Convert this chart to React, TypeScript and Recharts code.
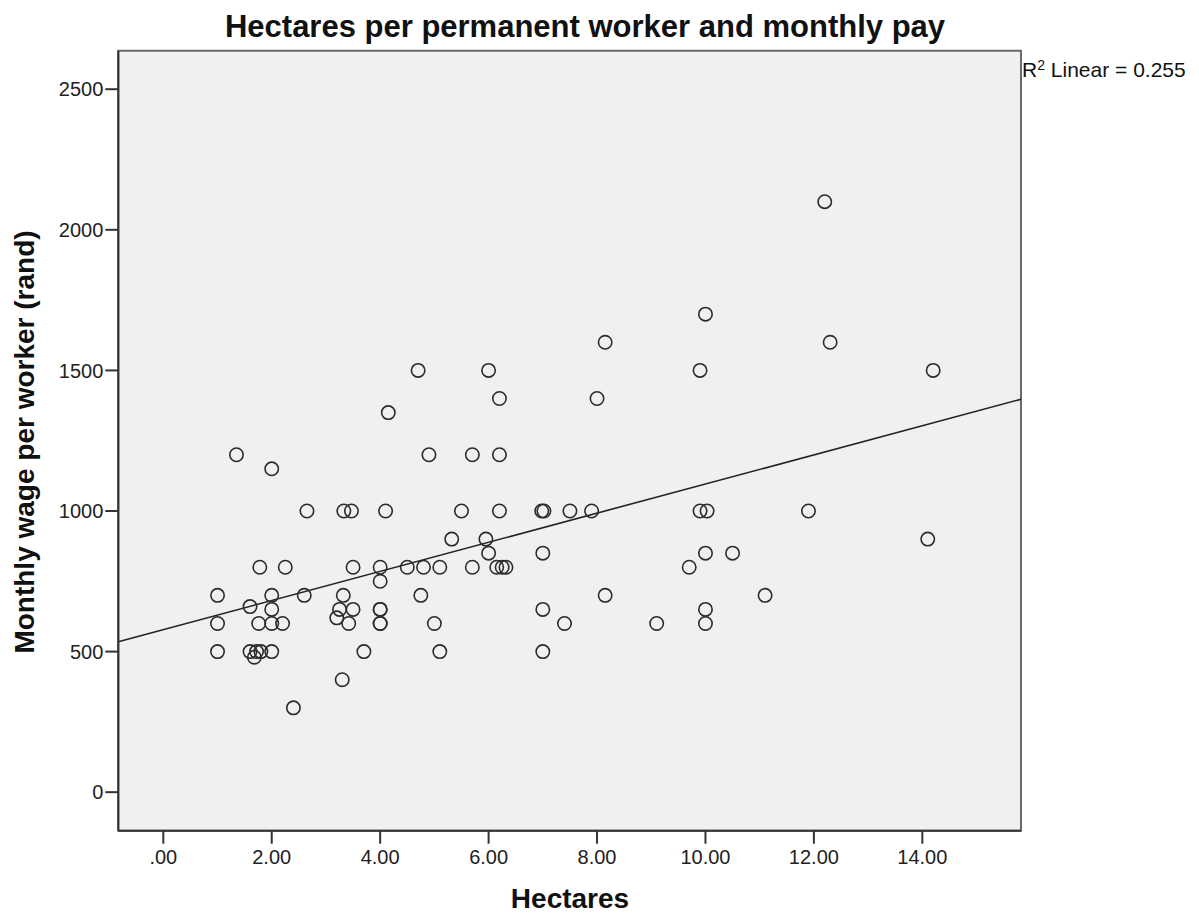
import { ScatterChart, Scatter, XAxis, YAxis, ReferenceArea, ReferenceLine } from "recharts";

document.body.style.margin = "0";

const FONT = '"Liberation Sans", Arial, sans-serif';

// farms: hectares per permanent worker, grouped by wage level
const hectares = [
  12.2, // 2100
  10.0, // 1700
  8.15, 12.3, // 1600
  4.7, 6.0, 9.9, 14.2, // 1500
  6.2, 8.0, // 1400
  4.15, // 1350
  1.35, 4.9, 5.7, 6.2, // 1200
  2.0, // 1150
  2.65, 3.33, 3.47, 4.1, 5.5, 6.2, 6.98, 7.02, 7.5, 7.9, 9.9, 10.03, 11.9, // 1000
  5.32, 5.95, 14.1, // 900
  6.0, 7.0, 10.0, 10.5, // 850
  1.78, 2.25, 3.5, 4.0, 4.5, 4.8, 5.1, 5.7, 6.15, 6.25, 6.32, 9.7, // 800
  4.0, // 750
  1.0, 2.0, 2.6, 3.32, 4.75, 8.15, 11.1, // 700
  1.6, // 660
  2.0, 3.25, 3.5, 4.0, 4.0, 7.0, 10.0, // 650
  3.2, // 620
  1.0, 1.76, 2.0, 2.2, 3.42, 4.0, 4.0, 5.0, 7.4, 9.1, 10.0, // 600
  1.0, 1.6, 1.72, 1.8, 2.0, 3.7, 5.1, 7.0, // 500
  1.68, // 480
  3.3, // 400
  2.4, // 300
];

const wages = [
  2100,
  1700,
  1600, 1600,
  1500, 1500, 1500, 1500,
  1400, 1400,
  1350,
  1200, 1200, 1200, 1200,
  1150,
  1000, 1000, 1000, 1000, 1000, 1000, 1000, 1000, 1000, 1000, 1000, 1000, 1000,
  900, 900, 900,
  850, 850, 850, 850,
  800, 800, 800, 800, 800, 800, 800, 800, 800, 800, 800, 800,
  750,
  700, 700, 700, 700, 700, 700, 700,
  660,
  650, 650, 650, 650, 650, 650, 650,
  620,
  600, 600, 600, 600, 600, 600, 600, 600, 600, 600, 600,
  500, 500, 500, 500, 500, 500, 500, 500,
  480,
  400,
  300,
];

const xTicks = [0, 2, 4, 6, 8, 10, 12, 14];
const yTicks = [0, 500, 1000, 1500, 2000, 2500];
const xDomain: [number, number] = [-0.83, 15.82];
const yDomain: [number, number] = [-137, 2637];

// fit line as drawn in the picture
const fitIntercept = 578;
const fitSlope = 51.8;
const rSquared = "0.255";

const points = hectares.map((h, i) => ({ hectares: h, wage: wages[i] }));

const ring = (p: any) => (
  <circle cx={p.cx} cy={p.cy} r={6.7} fill="none" stroke="#2b2b2b" strokeWidth={1.6} />
);

export default function App() {
  return (
    <div style={{ position: "relative", width: 1199, height: 915, fontFamily: FONT, background: "#fff", overflow: "hidden" }}>
      <ScatterChart width={1199} height={915} margin={{ top: 50.7, right: 178, bottom: 0, left: 0 }}>
        <ReferenceArea
          x1={xDomain[0]}
          x2={xDomain[1]}
          y1={yDomain[0]}
          y2={yDomain[1]}
          fill="#f0f0f0"
          fillOpacity={1}
          stroke="#6a6a6a"
          strokeWidth={2}
        />
        <XAxis
          type="number"
          dataKey="hectares"
          domain={xDomain}
          ticks={xTicks}
          interval={0}
          allowDataOverflow
          height={84.3}
          tickSize={13}
          tickMargin={6}
          tickFormatter={(v: number) => (v === 0 ? ".00" : v.toFixed(2))}
          tick={{ fill: "#222", fontSize: 20, fontFamily: FONT }}
          tickLine={{ stroke: "#333", strokeWidth: 2 }}
          axisLine={{ stroke: "#333", strokeWidth: 2 }}
        />
        <YAxis
          type="number"
          dataKey="wage"
          domain={yDomain}
          ticks={yTicks}
          interval={0}
          allowDataOverflow
          width={118.3}
          tickSize={13}
          tickMargin={2}
          tick={{ fill: "#222", fontSize: 20, fontFamily: FONT }}
          tickLine={{ stroke: "#333", strokeWidth: 2 }}
          axisLine={{ stroke: "#333", strokeWidth: 2 }}
        />
        <ReferenceLine
          segment={[
            { x: xDomain[0], y: fitIntercept + fitSlope * xDomain[0] },
            { x: xDomain[1], y: fitIntercept + fitSlope * xDomain[1] },
          ]}
          stroke="#222"
          strokeWidth={1.6}
        />
        <Scatter data={points} isAnimationActive={false} shape={ring} />
      </ScatterChart>

      <div
        style={{
          position: "absolute",
          left: 585,
          top: 9,
          transform: "translateX(-50%)",
          whiteSpace: "nowrap",
          fontSize: 31,
          fontWeight: "bold",
          color: "#111",
        }}
      >
        Hectares per permanent worker and monthly pay
      </div>

      <div
        style={{
          position: "absolute",
          left: 570,
          top: 885,
          transform: "translateX(-50%)",
          whiteSpace: "nowrap",
          fontSize: 28,
          fontWeight: "bold",
          color: "#111",
          lineHeight: 1,
        }}
      >
        Hectares
      </div>

      <div
        style={{
          position: "absolute",
          left: 25,
          top: 442,
          transform: "translate(-50%, -50%) rotate(-90deg)",
          whiteSpace: "nowrap",
          fontSize: 28,
          fontWeight: "bold",
          color: "#111",
        }}
      >
        Monthly wage per worker (rand)
      </div>

      <div
        style={{
          position: "absolute",
          left: 1022,
          top: 58,
          whiteSpace: "nowrap",
          fontSize: 21,
          color: "#111",
        }}
      >
        R<sup style={{ fontSize: 14, verticalAlign: "top", lineHeight: 1 }}>2</sup> Linear = {rSquared}
      </div>
    </div>
  );
}
